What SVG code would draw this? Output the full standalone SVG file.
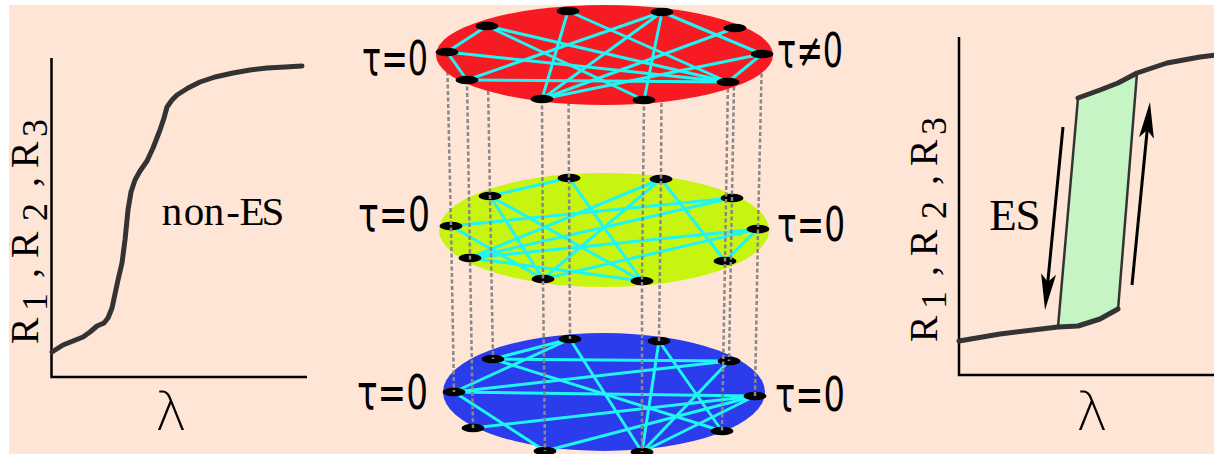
<svg xmlns="http://www.w3.org/2000/svg" width="1214" height="454" viewBox="0 0 1214 454">
<style>
.bg{fill:#FEE5D6}
.axis{stroke:#000;stroke-width:2.5;fill:none}
.curve{stroke:#333;stroke-width:5;fill:none;stroke-linejoin:round;stroke-linecap:round}
.side{stroke:#333;stroke-width:2.5;fill:#C5F5C5;stroke-linejoin:round}
.arr{stroke:#000;stroke-width:3;fill:none}
.edge{stroke:#20F5F5;stroke-width:3;stroke-linecap:round}
.node{fill:#000}
.dash{stroke:#888888;stroke-width:2.5;stroke-dasharray:4 2.5;fill:none}
.tau{font-family:"DejaVu Sans",sans-serif;font-stretch:condensed;font-size:48px;fill:#000}
.ser{font-family:"Liberation Serif","DejaVu Serif",serif;fill:#000;text-anchor:middle}
.ylab{font-size:40px}
.sub{font-size:36px}
.lam{font-family:"DejaVu Sans",sans-serif;font-size:54px;font-weight:200;fill:#000;text-anchor:middle}
</style>
<defs>
<marker id="ah" viewBox="-20 -10 44 20" refX="0" refY="0" markerWidth="44" markerHeight="20" markerUnits="userSpaceOnUse" orient="auto">
<path d="M20,0 L-16,-7.5 L-8,0 L-16,7.5 Z" fill="#000"/>
</marker>
<ellipse id="nd" rx="11.5" ry="4.3"/>
</defs>
<rect class="bg" x="9" y="5" width="1205" height="449"/>

<g id="plot-left">
<path class="axis" d="M51.5,58 V377 H307"/>
<polyline class="curve" points="52,352 63,345 83,337 90,332 97,326 104,323 108,318 112,308 115,294 118,280 122,263 125,240 128,210 131,192 135,180 140,171 147,161 153,148 160,130 164,118 167,107 172,100 177,95 188,88 200,82 215,77 233,73 250,70 267,68 285,67 302,66"/>
<text class="ser" font-size="41" x="172 194 214 233 252 273" y="225">non-ES</text>
<text class="ser ylab" transform="translate(38,345) rotate(-90)"><tspan x="14" y="0">R</tspan><tspan class="sub" x="43" y="9">1</tspan><tspan x="72" y="0">,</tspan><tspan x="100" y="0">R</tspan><tspan class="sub" x="133" y="9">2</tspan><tspan x="163" y="0">,</tspan><tspan x="190" y="0">R</tspan><tspan class="sub" x="217" y="9">3</tspan></text>
<text class="lam" x="171" y="430">λ</text>
</g>

<g id="plot-right">
<path class="axis" d="M959,37 V375 H1214"/>
<polygon class="side" points="1058,327 1078,98 1100,90 1118,83 1137,73 1118,310 1100,319 1078,326"/>
<polyline class="curve" points="959,341 1000,334 1058,327 1078,326 1100,319 1118,309"/>
<polyline class="curve" points="1078,98 1100,90 1118,83 1137,73 1167,63 1200,57 1216,55"/>
<line class="arr" x1="1063" y1="127" x2="1047" y2="290" marker-end="url(#ah)"/>
<line class="arr" x1="1132" y1="285" x2="1148" y2="122" marker-end="url(#ah)"/>
<text class="ser" font-size="45" x="1003 1028" y="230">ES</text>
<text class="ser ylab" transform="translate(937,343) rotate(-90)"><tspan x="14" y="0">R</tspan><tspan class="sub" x="43" y="9">1</tspan><tspan x="72" y="0">,</tspan><tspan x="100" y="0">R</tspan><tspan class="sub" x="133" y="9">2</tspan><tspan x="163" y="0">,</tspan><tspan x="190" y="0">R</tspan><tspan class="sub" x="217" y="9">3</tspan></text>
<text class="lam" x="1092" y="430">λ</text>
</g>

<g id="layer-blue">
<ellipse cx="604" cy="392" rx="161" ry="59" fill="#2A3CEB"/>
<g class="edge">
<line x1="493" y1="359" x2="570" y2="339"/>
<line x1="570" y1="339" x2="454" y2="392"/>
<line x1="493" y1="359" x2="729" y2="361"/>
<line x1="493" y1="359" x2="722" y2="431"/>
<line x1="570" y1="339" x2="642" y2="452"/>
<line x1="659" y1="341" x2="642" y2="452"/>
<line x1="659" y1="341" x2="722" y2="431"/>
<line x1="729" y1="361" x2="642" y2="452"/>
<line x1="454" y1="392" x2="729" y2="361"/>
<line x1="454" y1="392" x2="755" y2="396"/>
<line x1="454" y1="392" x2="545" y2="451"/>
<line x1="473" y1="428" x2="755" y2="396"/>
<line x1="545" y1="451" x2="755" y2="396"/>
<line x1="642" y1="452" x2="755" y2="396"/>
</g>
<g class="node">
<use href="#nd" x="570" y="339"/><use href="#nd" x="659" y="341"/><use href="#nd" x="493" y="359"/><use href="#nd" x="729" y="361"/><use href="#nd" x="454" y="392"/><use href="#nd" x="755" y="396"/><use href="#nd" x="473" y="428"/><use href="#nd" x="722" y="431"/><use href="#nd" x="545" y="451"/><use href="#nd" x="642" y="452"/>
</g>
</g>

<g id="layer-yellow">
<ellipse cx="604" cy="230" rx="165" ry="57" fill="#C8F50F"/>
<g class="edge">
<line x1="490" y1="196" x2="569" y2="178"/>
<line x1="490" y1="196" x2="543" y2="279"/>
<line x1="490" y1="196" x2="642" y2="281"/>
<line x1="569" y1="178" x2="642" y2="281"/>
<line x1="661" y1="179" x2="470" y2="258"/>
<line x1="661" y1="179" x2="543" y2="279"/>
<line x1="661" y1="179" x2="725" y2="261"/>
<line x1="451" y1="226" x2="732" y2="198"/>
<line x1="470" y1="258" x2="732" y2="198"/>
<line x1="470" y1="258" x2="758" y2="229"/>
<line x1="758" y1="229" x2="725" y2="261"/>
<line x1="758" y1="229" x2="543" y2="279"/>
<line x1="451" y1="226" x2="543" y2="279"/>
<line x1="470" y1="258" x2="642" y2="281"/>
</g>
<g class="node">
<use href="#nd" x="569" y="178"/><use href="#nd" x="661" y="179"/><use href="#nd" x="490" y="196"/><use href="#nd" x="732" y="198"/><use href="#nd" x="451" y="226"/><use href="#nd" x="758" y="229"/><use href="#nd" x="470" y="258"/><use href="#nd" x="725" y="261"/><use href="#nd" x="543" y="279"/><use href="#nd" x="642" y="281"/>
</g>
</g>

<g id="connectors" class="dash">
<polyline points="447,52 451,226 454,392"/>
<polyline points="467,80 470,258 473,428"/>
<polyline points="487,26 490,196 493,359"/>
<polyline points="542,99 543,279 545,451"/>
<polyline points="568,11 569,178 570,339"/>
<polyline points="644,100 642,281 642,452"/>
<polyline points="662,12 661,179 659,341"/>
<polyline points="728,82 725,261 722,431"/>
<polyline points="735,28 732,198 729,361"/>
<polyline points="762,54 758,229 755,396"/>
</g>

<g id="layer-red">
<ellipse cx="604.5" cy="55" rx="168.5" ry="50" fill="#F81A22"/>
<g class="edge">
<line x1="487" y1="26" x2="447" y2="52"/>
<line x1="447" y1="52" x2="467" y2="80"/>
<line x1="487" y1="26" x2="728" y2="82"/>
<line x1="487" y1="26" x2="644" y2="100"/>
<line x1="568" y1="11" x2="542" y2="99"/>
<line x1="568" y1="11" x2="728" y2="82"/>
<line x1="662" y1="12" x2="467" y2="80"/>
<line x1="662" y1="12" x2="542" y2="99"/>
<line x1="662" y1="12" x2="644" y2="100"/>
<line x1="662" y1="12" x2="762" y2="54"/>
<line x1="735" y1="28" x2="542" y2="99"/>
<line x1="447" y1="52" x2="728" y2="82"/>
<line x1="762" y1="54" x2="728" y2="82"/>
<line x1="762" y1="54" x2="542" y2="99"/>
<line x1="467" y1="80" x2="728" y2="82"/>
</g>
<g class="node">
<use href="#nd" x="568" y="11"/><use href="#nd" x="662" y="12"/><use href="#nd" x="487" y="26"/><use href="#nd" x="735" y="28"/><use href="#nd" x="447" y="52"/><use href="#nd" x="762" y="54"/><use href="#nd" x="467" y="80"/><use href="#nd" x="728" y="82"/><use href="#nd" x="542" y="99"/><use href="#nd" x="644" y="100"/>
</g>
</g>

<g id="labels">
<text class="tau" x="362" y="75" textLength="66" lengthAdjust="spacingAndGlyphs">τ=0</text>
<text class="tau" x="777" y="67" textLength="66" lengthAdjust="spacingAndGlyphs">τ≠0</text>
<text class="tau" x="358" y="231" textLength="72" lengthAdjust="spacingAndGlyphs">τ=0</text>
<text class="tau" x="777" y="241" textLength="68" lengthAdjust="spacingAndGlyphs">τ=0</text>
<text class="tau" x="357" y="409" textLength="71" lengthAdjust="spacingAndGlyphs">τ=0</text>
<text class="tau" x="775" y="411" textLength="70" lengthAdjust="spacingAndGlyphs">τ=0</text>
</g>
</svg>
